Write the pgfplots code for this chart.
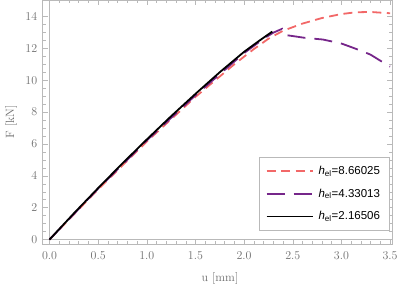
\documentclass[border=0pt]{standalone}
\usepackage{pgfplots}
\pgfplotsset{compat=1.18}
\usepackage{fontspec}
\newfontfamily\legfont{Liberation Sans}
\definecolor{cred}{RGB}{242,104,104}
\definecolor{cpur}{RGB}{118,38,138}
\definecolor{frame}{RGB}{185,185,185}
\definecolor{tlab}{RGB}{110,110,110}
\begin{document}
\begin{tikzpicture}
\path[use as bounding box] (-42.7pt,-46pt) rectangle (356.3pt,244pt);
\begin{axis}[
  at={(0,0)}, anchor=south west,
  scale only axis, width=349.3pt, height=244pt,
  xmin=-0.07, xmax=3.52, ymin=-0.28, ymax=15.03,
  xtick={0,0.5,...,3.5}, ytick={0,2,...,14},
  minor x tick num=4, minor y tick num=3,
  tick align=inside,
  major tick length=5pt, minor tick length=3pt,
  axis line style={frame},
  every tick/.style={frame},
  xticklabel style={yshift=-4pt, /pgf/number format/.cd, fixed, fixed zerofill, precision=1},
  yticklabel style={xshift=-2pt, /pgf/number format/.cd, fixed, precision=0},
  ticklabel style={font=\fontsize{12.5}{14}\selectfont, text=tlab},
  label style={font=\fontsize{12}{14}\selectfont, text=tlab},
  xlabel={u [mm]}, ylabel={F [kN]},
  xlabel style={at={(axis description cs:0.5076,-0.143)}, anchor=center},
  ylabel style={at={(axis description cs:-0.0907,0.5)}, anchor=center},
  legend style={at={(0.992,0.055)}, anchor=south east, draw=frame, fill=white,
    font=\legfont\fontsize{11.5}{13}\selectfont, inner xsep=7pt, inner ysep=7pt,
    row sep=9pt, column sep=3pt},
  legend cell align=left,
  legend image code/.code={\draw[#1] (0pt,0pt) -- (46pt,0pt);},
]
\draw[frame, line width=0.6pt] (axis cs:0,-0.28) -- (axis cs:0,15.03);
\draw[frame, line width=0.6pt] (axis cs:-0.07,0) -- (axis cs:3.52,0);
\addplot[cred, line width=1.8pt, dash pattern=on 9pt off 5.5pt] coordinates {
(0,0) (0.5,3.15) (1.0,6.15) (1.5,8.95) (1.9,11.0) (2.1,11.95) (2.25,12.6)
(2.4,13.1) (2.6,13.55) (2.8,13.9) (3.0,14.15) (3.15,14.26) (3.3,14.28)
(3.44,14.22) (3.5,14.2)};
\addlegendentry{{\itshape h}\textsubscript{el}=8.66025}
\addplot[cpur, line width=1.8pt, dash pattern=on 18pt off 9pt] coordinates {
(0,0) (0.5,3.2) (1.0,6.22) (1.5,9.05) (2.0,11.7) (2.2,12.6) (2.3,12.98)
(2.39,13.22) (2.40,13.0) (2.44,12.82) (2.62,12.66) (2.81,12.55) (3.0,12.3)
(3.09,12.1) (3.2,11.85) (3.3,11.6) (3.44,11.07) (3.5,10.85)};
\addlegendentry{{\itshape h}\textsubscript{el}=4.33013}
\addplot[black, line width=1.8pt] coordinates {
(0,0) (0.25,1.64) (0.5,3.23) (0.75,4.78) (1.0,6.28) (1.25,7.74) (1.5,9.14)
(1.75,10.5) (2.0,11.78) (2.15,12.45) (2.29,13.05)};
\addlegendentry{{\itshape h}\textsubscript{el}=2.16506}
\end{axis}
\end{tikzpicture}
\end{document}
